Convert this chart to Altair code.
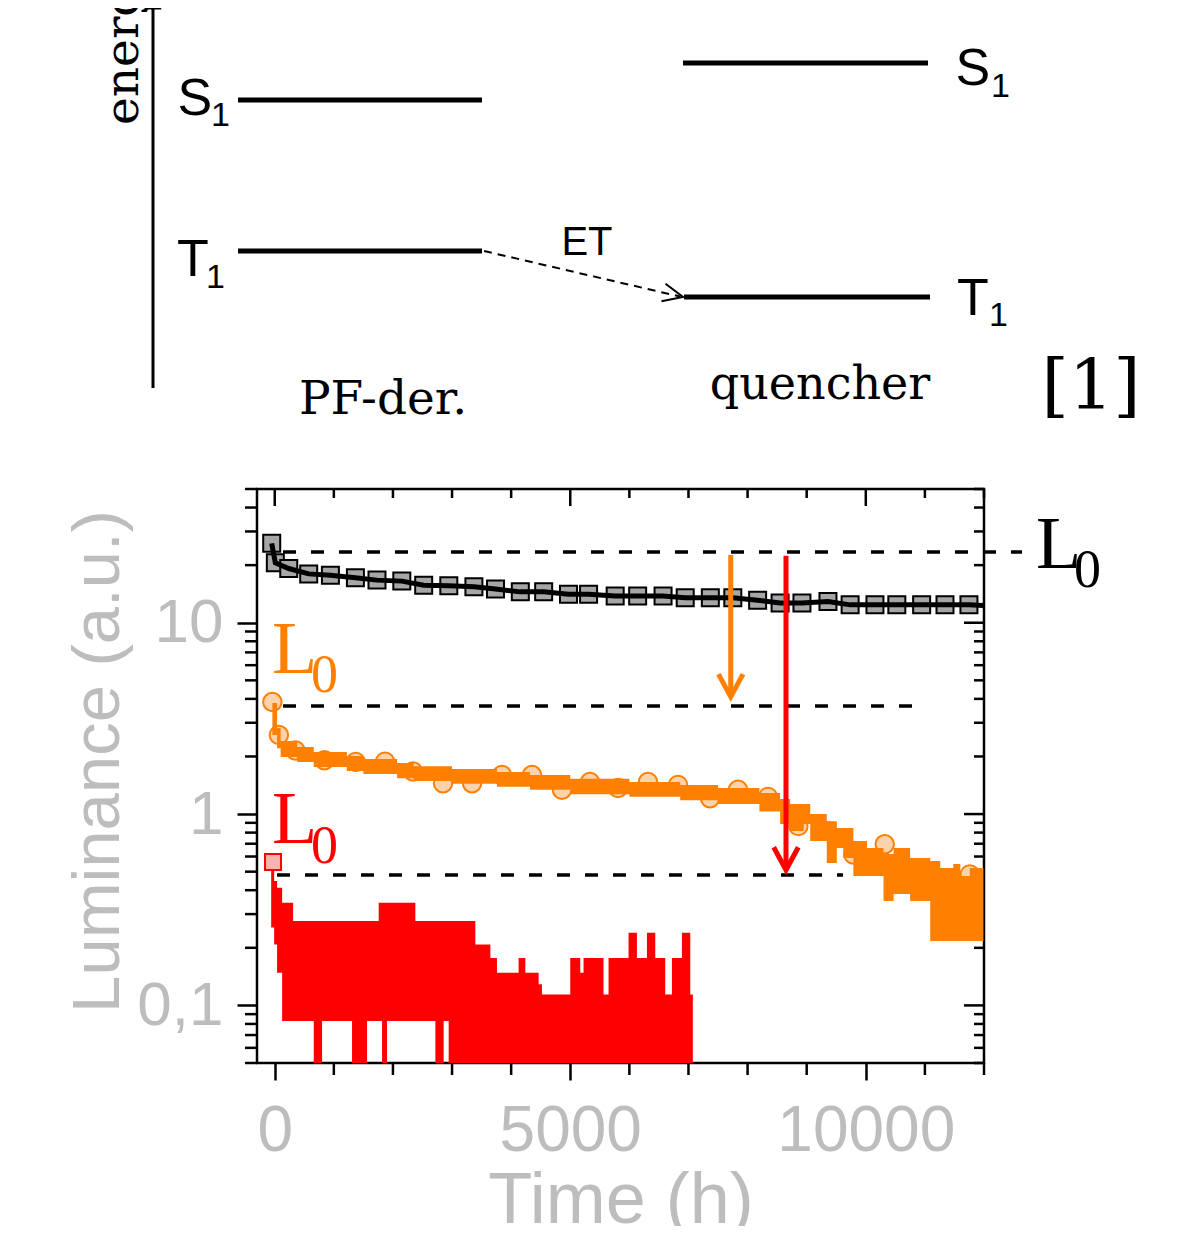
import altair as alt
import pandas as pd

# ---------------- luminance decay data ----------------
# black reference device: square markers and its line
blk_t = [-51, 10, 237, 575, 942, 1365, 1730, 2150, 2520, 2945, 3370, 3735, 4155, 4550,
         4970, 5310, 5760, 6140, 6570, 6945, 7370, 7750, 8170, 8550, 8920, 9360, 9735,
         10155, 10525, 10945, 11340, 11745]
blk_v = [26.0, 20.6, 19.2, 18.0, 17.7, 17.2, 16.7, 16.5, 15.7, 15.6, 15.4, 15.0, 14.5, 14.5,
         14.1, 14.1, 13.8, 13.8, 13.8, 13.5, 13.5, 13.5, 13.1, 12.7, 12.7, 12.9, 12.4,
         12.4, 12.4, 12.4, 12.4, 12.4]
blk_line_t = [-51, 10, 237, 575, 942, 1365, 1730, 2150, 2520, 2945, 3370, 3735, 4155, 4550,
              4970, 5310, 5760, 6140, 6570, 6945, 7370, 7750, 8170, 8550, 8920, 9360, 9735,
              10155, 10525, 10945, 11340, 11745, 11990]
blk_line_v = [26.0, 20.6, 19.2, 18.0, 17.7, 17.2, 16.7, 16.5, 15.7, 15.6, 15.4, 15.0, 14.5, 14.5,
              14.1, 14.1, 13.8, 13.8, 13.8, 13.5, 13.5, 13.5, 13.1, 12.7, 12.7, 12.9, 12.4,
              12.4, 12.4, 12.4, 12.4, 12.4, 12.3]

# orange device: circle markers and noisy band
org_pt_t = [-40, 70, 350, 840, 1370, 1866, 2339, 2847, 3338, 3845, 4353, 4860, 5334, 5808,
            6315, 6823, 7364, 7838, 8346, 8860, 9340, 9790, 10320, 10830, 11340, 11760]
org_pt_v = [3.85, 2.59, 2.15, 1.91, 1.87, 1.88, 1.67, 1.45, 1.45, 1.60, 1.60, 1.34, 1.47, 1.37,
            1.47, 1.42, 1.21, 1.34, 1.23, 0.865, 0.815, 0.615, 0.695, 0.50, 0.44, 0.484]
org_band_t = [-40, 40, 100, 380, 660, 1220, 1500, 2070, 2350, 3000, 3760, 4320, 5000, 6000,
              6860, 7500, 8200, 8550, 8720, 8950, 9060, 9340, 9510, 9620, 9790, 10020, 10300,
              10470, 10750, 11090, 11260, 11480, 11600, 11760, 11990]
org_band_hi = [3.81, 2.82, 2.41, 2.24, 2.11, 2.01, 1.94, 1.85, 1.78, 1.72, 1.66, 1.60, 1.53, 1.47,
               1.42, 1.37, 1.29, 1.20, 1.13, 1.13, 1.00, 0.918, 0.845, 0.845, 0.723, 0.664, 0.618,
               0.664, 0.589, 0.568, 0.522, 0.548, 0.474, 0.522, 0.522]
org_band_lo = [2.59, 2.21, 1.99, 1.87, 1.76, 1.68, 1.62, 1.54, 1.49, 1.44, 1.39, 1.34, 1.27, 1.23,
               1.18, 1.13, 1.03, 0.887, 0.815, 0.887, 0.723, 0.555, 0.664, 0.589, 0.474, 0.474, 0.351,
               0.382, 0.351, 0.217, 0.217, 0.217, 0.217, 0.217, 0.217]

# red device: noisy band and first marker
red_band_t = [-60, -10, 40, 125, 311, 660, 801, 1308, 1562, 1759, 1816, 1900, 2379, 2718, 2858,
              2943, 3281, 3394, 3648, 3760, 4126, 4240, 4465, 4521, 5000, 5169, 5225, 5563, 5648,
              5986, 6128, 6297, 6438, 6607, 6720, 6889, 7030, 7074]
red_band_hi = [0.546, 0.447, 0.412, 0.344, 0.276, 0.276, 0.276, 0.276, 0.276, 0.344, 0.344, 0.344,
               0.276, 0.276, 0.276, 0.276, 0.276, 0.208, 0.177, 0.148, 0.177, 0.148, 0.129, 0.114,
               0.177, 0.148, 0.177, 0.114, 0.177, 0.240, 0.177, 0.240, 0.177, 0.114, 0.177, 0.240,
               0.114, 0.114]
red_band_lo = [0.255, 0.208, 0.148, 0.083, 0.083, 0.05, 0.083, 0.05, 0.083, 0.083, 0.05, 0.083,
               0.083, 0.05, 0.083, 0.05, 0.05, 0.05, 0.05, 0.05, 0.05, 0.05, 0.05, 0.05,
               0.05, 0.05, 0.05, 0.05, 0.05, 0.05, 0.05, 0.05, 0.05, 0.05, 0.05, 0.05, 0.05, 0.05]
red_pt_t = [-29]
red_pt_v = [0.562]

# initial-luminance reference lines, arrows and labels
l0_value = [23.4, 3.67, 0.480]
l0_t0 = [140, 140, 38]
l0_t1 = [12643, 10917, 9615]

arrow_t = [7715, 8650]
arrow_top = [22.6, 22.4]
arrow_tip = [4.10, 0.510]
arrow_color = ["#ff8000", "#ff0000"]

l0_text = ["L", "L", "L"]
l0_text_t = [12880, -46, -46]
l0_text_v = [19.3, 5.46, 0.706]
l0_sub = ["0", "0", "0"]
l0_sub_t = [13523, 614, 614]
l0_sub_v = [15.4, 4.35, 0.555]
l0_color = ["#000000", "#ff8000", "#ff0000"]

# axis ticks
x_major = [0, 5000, 10000]
x_minor = [1000, 2000, 3000, 4000, 6000, 7000, 8000, 9000, 11000, 12000]
y_major = [0.1, 1, 10]
y_minor = [0.05, 0.06, 0.07, 0.08, 0.09, 0.2, 0.3, 0.4, 0.5, 0.6, 0.7, 0.8, 0.9,
           2, 3, 4, 5, 6, 7, 8, 9, 20, 30, 40, 50]

# ---------------- energy level diagram (position units / energy units) ----------------
lvl_u0 = [0.85, 0.85, 5.30, 5.31]
lvl_u1 = [3.29, 3.29, 7.75, 7.77]
lvl_E = [2.88, 1.37, 3.25, 0.91]
state_txt = ["S", "T", "S", "T"]
state_u = [0.246, 0.24, 8.026, 8.04]
state_E = [2.73, 1.12, 3.03, 0.73]
state_sub = ["1", "1", "1", "1"]
state_sub_u = [0.58, 0.53, 8.38, 8.36]
state_sub_E = [2.62, 1.00, 2.91, 0.62]
energy_axis_u = [0.0]
energy_axis_E0 = [0.0]
energy_axis_E1 = [3.80]
energy_head_E = [3.86]
et_u0 = [3.31]
et_E0 = [1.37]
et_u1 = [5.27]
et_E1 = [0.915]
et_tip_u = [5.30]
et_tip_E = [0.91]
serif_txt = ["PF-der.", "quencher", "[1]"]
serif_u = [2.30, 6.67, 9.38]
serif_E = [-0.26, -0.11, -0.21]
serif_size = [47, 46, 70]

GREY = "#bdbdbd"
XS = alt.Scale(domain=[-300, 12000], nice=False, zero=False)
YS = alt.Scale(type="log", domain=[0.05, 50], nice=False)


def X(f):
    return alt.X(f, type="quantitative", scale=XS, axis=None)


def Y(f):
    return alt.Y(f, type="quantitative", scale=YS, axis=None)


x_axis = alt.Axis(values=x_major, tickSize=17, tickWidth=2.5, tickColor="black", domain=False,
                  grid=False, labelFont="Liberation Sans", labelFontSize=64, labelColor=GREY,
                  labelPadding=19, labelFlush=False, labelOverlap=False, labelLimit=500,
                  labelExpr="format(datum.value, 'd')",
                  title="Time (h)", titleFont="Liberation Sans", titleFontSize=72,
                  titleFontWeight="normal", titleColor=GREY, titleX=363.5, titleY=159,
                  titleBaseline="alphabetic", titleAlign="center", titleLimit=1000)
y_axis = alt.Axis(values=y_major, tickSize=20, tickWidth=2.5, tickColor="black", domain=False,
                  grid=False, labelFont="Liberation Sans", labelFontSize=62, labelColor=GREY,
                  labelPadding=14, labelOverlap=False, labelLimit=500,
                  labelExpr="datum.value < 0.5 ? '0,1' : format(datum.value, 'd')",
                  title="Luminance (a.u.)", titleFont="Liberation Sans", titleFontSize=67,
                  titleFontWeight="normal", titleColor=GREY, titleAngle=270, titleX=-139,
                  titleY=272, titleBaseline="alphabetic", titleAlign="center", titleLimit=1000)

blk_df = pd.DataFrame({"t": blk_t, "v": blk_v})
blk_line_df = pd.DataFrame({"t": blk_line_t, "v": blk_line_v})
org_pt_df = pd.DataFrame({"t": org_pt_t, "v": org_pt_v})
org_band_df = pd.DataFrame({"t": org_band_t, "hi": org_band_hi, "lo": org_band_lo})
red_band_df = pd.DataFrame({"t": red_band_t, "hi": red_band_hi, "lo": red_band_lo})
red_pt_df = pd.DataFrame({"t": red_pt_t, "v": red_pt_v})
l0_df = pd.DataFrame({"v": l0_value, "t0": l0_t0, "t1": l0_t1})
arrow_df = pd.DataFrame({"t": arrow_t, "top": arrow_top, "tip": arrow_tip, "c": arrow_color})
l0_text_df = pd.DataFrame({"t": l0_text_t, "v": l0_text_v, "s": l0_text, "c": l0_color})
l0_sub_df = pd.DataFrame({"t": l0_sub_t, "v": l0_sub_v, "s": l0_sub, "c": l0_color})
xmaj_df = pd.DataFrame({"t": x_major})
xmin_df = pd.DataFrame({"t": x_minor})
ymaj_df = pd.DataFrame({"v": y_major})
ymin_df = pd.DataFrame({"v": y_minor})

W, H = 727, 574
TW = 2.5

ticks = [
    alt.Chart(xmin_df).mark_rule(color="black", strokeWidth=TW).encode(
        x=X("t"), y=alt.value(H), y2=alt.value(H + 12)),
    alt.Chart(xmaj_df).mark_rule(color="black", strokeWidth=TW).encode(
        x=X("t"), y=alt.value(0), y2=alt.value(17)),
    alt.Chart(xmin_df).mark_rule(color="black", strokeWidth=TW).encode(
        x=X("t"), y=alt.value(0), y2=alt.value(9)),
    alt.Chart(ymin_df).mark_rule(color="black", strokeWidth=TW).encode(
        y=Y("v"), x=alt.value(-12), x2=alt.value(0)),
    alt.Chart(ymaj_df).mark_rule(color="black", strokeWidth=TW).encode(
        y=Y("v"), x=alt.value(W - 20), x2=alt.value(W)),
    alt.Chart(ymin_df).mark_rule(color="black", strokeWidth=TW).encode(
        y=Y("v"), x=alt.value(W - 10), x2=alt.value(W)),
]

dashes = alt.Chart(l0_df).mark_rule(color="black", strokeWidth=3.5, strokeDash=[13, 15]).encode(
    x=X("t0"), x2=alt.X2("t1"), y=Y("v"))

red_band = alt.Chart(red_band_df).mark_area(
    interpolate="step-after", color="#ff0000", orient="vertical", opacity=1).encode(
    x=X("t"), y=Y("hi"), y2=alt.Y2("lo"))
red_pt = alt.Chart(red_pt_df).mark_square(
    size=256, fill="#f9b3b3", stroke="#ff0000", strokeWidth=2, opacity=1).encode(
    x=X("t"), y=Y("v"))

org_pts = alt.Chart(org_pt_df).mark_circle(
    size=340, fill="#fdd3ae", stroke="#ff8000", strokeWidth=2, opacity=1).encode(
    x=X("t"), y=Y("v"))
org_band = alt.Chart(org_band_df).mark_area(
    interpolate="step-after", color="#ff8000", orient="vertical", opacity=1).encode(
    x=X("t"), y=Y("hi"), y2=alt.Y2("lo"))

blk_sq = alt.Chart(blk_df).mark_square(
    size=289, fill="#a6a6a6", stroke="#000000", strokeWidth=2, opacity=1).encode(
    x=alt.X("t", type="quantitative", scale=XS, axis=x_axis),
    y=alt.Y("v", type="quantitative", scale=YS, axis=y_axis))
blk_line = alt.Chart(blk_line_df).mark_line(color="black", strokeWidth=5).encode(
    x=X("t"), y=Y("v"))

arrows = alt.Chart(arrow_df).mark_rule(strokeWidth=5).encode(
    x=X("t"), y=Y("top"), y2=alt.Y2("tip"), color=alt.Color("c:N", scale=None))
heads = alt.Chart(arrow_df).mark_point(
    shape="M -1 -1.85 L 0 0 L 1 -1.85", filled=False, size=605, strokeWidth=5,
    opacity=1, strokeJoin="miter").encode(
    x=X("t"), y=Y("tip"), color=alt.Color("c:N", scale=None))

l0_L = alt.Chart(l0_text_df).mark_text(
    font="Liberation Serif", fontSize=74, align="left", baseline="alphabetic").encode(
    x=X("t"), y=Y("v"), text="s:N", color=alt.Color("c:N", scale=None))
l0_0 = alt.Chart(l0_sub_df).mark_text(
    font="Liberation Serif", fontSize=54, align="left", baseline="alphabetic").encode(
    x=X("t"), y=Y("v"), text="s:N", color=alt.Color("c:N", scale=None))

main_layers = [*ticks, dashes, red_band, red_pt, org_pts, org_band, blk_sq, blk_line,
               arrows, heads, l0_L, l0_0]

# ---------------- diagram layers ----------------
XD = alt.Scale(domain=[1.04, 8.31], nice=False, zero=False)
YD = alt.Scale(domain=[-6.75, -1.01], nice=False, zero=False)


def XDg(f):
    return alt.X(f, type="quantitative", scale=XD, axis=None)


def YDg(f):
    return alt.Y(f, type="quantitative", scale=YD, axis=None)


lvl_df = pd.DataFrame({"u0": lvl_u0, "u1": lvl_u1, "E": lvl_E})
st_df = pd.DataFrame({"u": state_u, "E": state_E, "s": state_txt})
st_sub_df = pd.DataFrame({"u": state_sub_u, "E": state_sub_E, "s": state_sub})
eax_df = pd.DataFrame({"u": energy_axis_u, "E0": energy_axis_E0, "E1": energy_axis_E1,
                       "Eh": energy_head_E})
et_df = pd.DataFrame({"u0": et_u0, "E0": et_E0, "u1": et_u1, "E1": et_E1,
                      "tu": et_tip_u, "tE": et_tip_E})
serif_df = pd.DataFrame({"u": serif_u, "E": serif_E, "s": serif_txt, "fs": serif_size})
energy_df = pd.DataFrame({"u": [-0.15], "E": [2.63], "s": ["energy"]})
et_lbl_df = pd.DataFrame({"u": [4.34], "E": [1.33], "s": ["ET"]})

diag_layers = [
    alt.Chart(eax_df).mark_rule(color="black", strokeWidth=3).encode(
        x=XDg("u"), y=YDg("E0"), y2=alt.Y2("E1")),
    alt.Chart(eax_df).mark_point(shape="triangle-up", filled=True, size=300, color="black",
                                 opacity=1).encode(x=XDg("u"), y=YDg("Eh")),
    alt.Chart(energy_df).mark_text(font="DejaVu Serif", fontSize=47, angle=270, align="left",
                                   baseline="alphabetic", color="black").encode(
        x=XDg("u"), y=YDg("E"), text="s:N"),
    alt.Chart(lvl_df).mark_rule(color="black", strokeWidth=5).encode(
        x=XDg("u0"), x2=alt.X2("u1"), y=YDg("E")),
    alt.Chart(st_df).mark_text(font="Liberation Sans", fontSize=52, align="left",
                               baseline="alphabetic", color="black").encode(
        x=XDg("u"), y=YDg("E"), text="s:N"),
    alt.Chart(st_sub_df).mark_text(font="Liberation Sans", fontSize=34, align="left",
                                   baseline="alphabetic", color="black").encode(
        x=XDg("u"), y=YDg("E"), text="s:N"),
    alt.Chart(et_df).mark_rule(color="black", strokeWidth=2, strokeDash=[8, 6]).encode(
        x=XDg("u0"), x2=alt.X2("u1"), y=YDg("E0"), y2=alt.Y2("E1")),
    alt.Chart(et_df).mark_point(shape="M -2 -0.9 L 0 0 L -2 0.9", filled=False, size=400,
                                strokeWidth=2, angle=13, color="black", opacity=1).encode(
        x=XDg("tu"), y=YDg("tE")),
    alt.Chart(et_lbl_df).mark_text(font="Liberation Sans", fontSize=40, align="center",
                                   baseline="alphabetic", color="black").encode(
        x=XDg("u"), y=YDg("E"), text="s:N"),
    alt.Chart(serif_df).mark_text(font="DejaVu Serif", align="center", baseline="alphabetic",
                                  color="black").encode(
        x=XDg("u"), y=YDg("E"), text="s:N", size=alt.Size("fs:Q", scale=None)),
]

chart = alt.layer(*main_layers, *diag_layers).resolve_scale(
    x="independent", y="independent").properties(
    width=W, height=H,
    autosize=alt.AutoSizeParams(type="none"),
    padding={"left": 249, "top": 481, "right": 199, "bottom": 163},
).configure_view(stroke="black", strokeWidth=2.5)

chart.save("out.html", embed_options={"renderer": "svg", "actions": False})
